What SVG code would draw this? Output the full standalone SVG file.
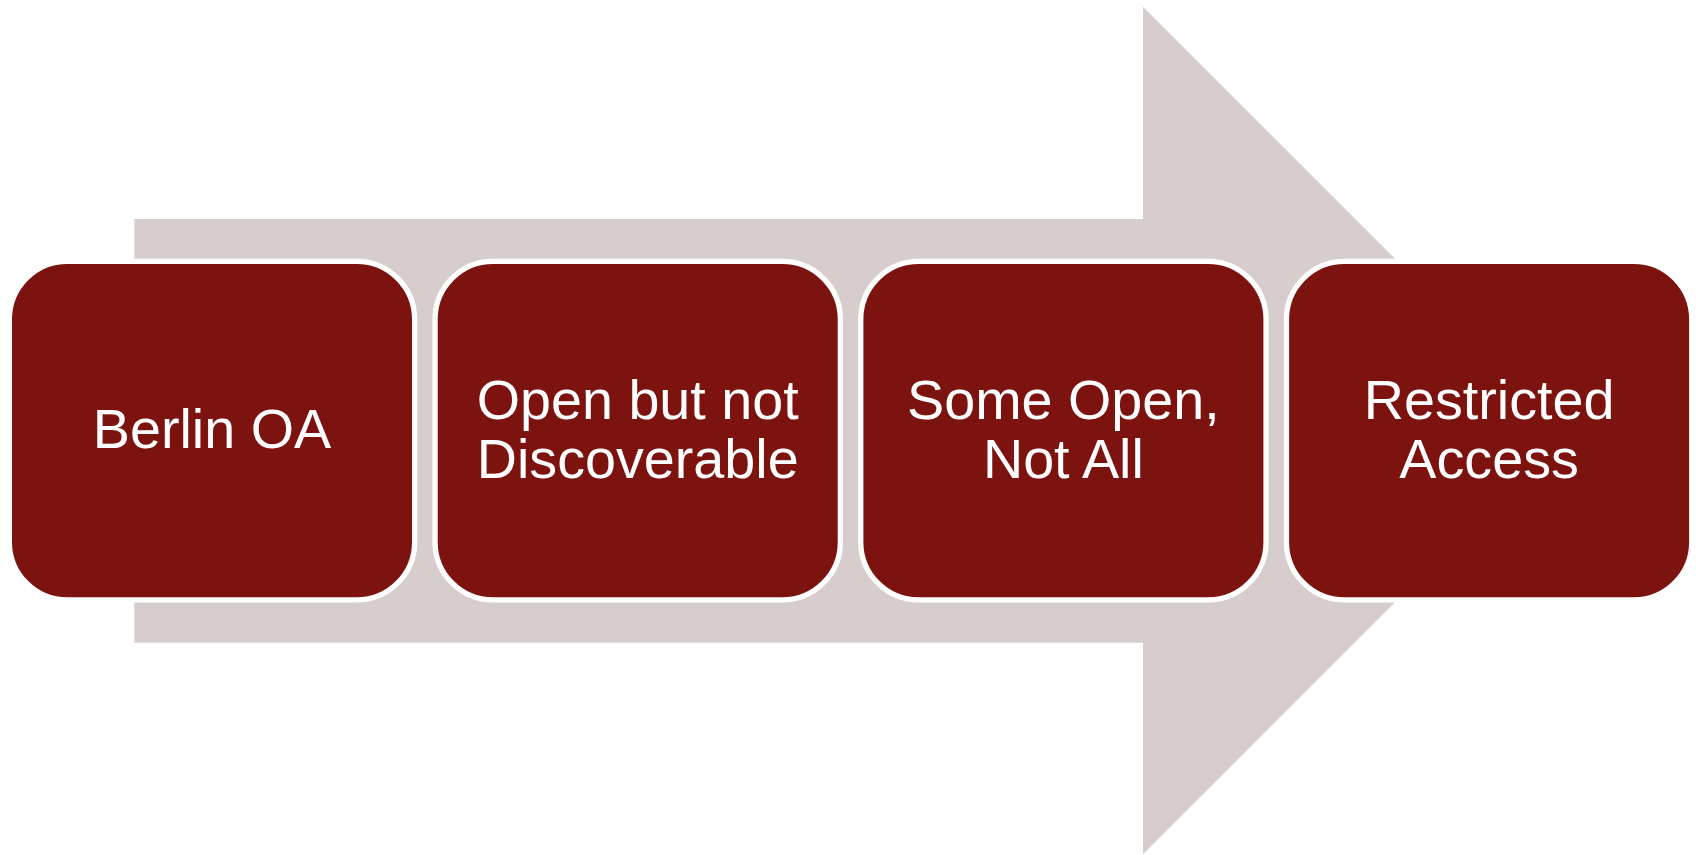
<svg xmlns="http://www.w3.org/2000/svg" width="1696" height="855" viewBox="0 0 1696 855">
  <style>
    .step { fill: #7D130F; stroke: #FFFFFF; stroke-width: 5.3; }
    .label { fill: #FFFFFF; font-family: "Liberation Sans", Arial, sans-serif; font-size: 55.7px; text-anchor: middle; }
  </style>
  <rect width="1696" height="855" fill="#FFFFFF"/>

  <!-- background process arrow -->
  <g id="connectors">
    <path d="M134.3 219 H1143 V6.7 L1566.8 430.5 L1143 854.3 V642.7 H134.3 Z" fill="#D7CDCC"/>
  </g>

  <g id="node-berlin-oa">
    <rect class="step" x="9.35" y="261.35" width="405.3" height="338.6" rx="58" ry="58"/>
    <text class="label" x="212" y="448.3">Berlin OA</text>
  </g>

  <g id="node-open-not-discoverable">
    <rect class="step" x="435.05" y="261.35" width="405.3" height="338.6" rx="58" ry="58"/>
    <text class="label" x="637.7" y="419">Open but not</text>
    <text class="label" x="637.7" y="477.7">Discoverable</text>
  </g>

  <g id="node-some-open">
    <rect class="step" x="860.75" y="261.35" width="405.3" height="338.6" rx="58" ry="58"/>
    <text class="label" x="1063.4" y="419">Some Open,</text>
    <text class="label" x="1063.4" y="477.7">Not All</text>
  </g>

  <g id="node-restricted">
    <rect class="step" x="1286.45" y="261.35" width="405.3" height="338.6" rx="58" ry="58"/>
    <text class="label" x="1489.1" y="419">Restricted</text>
    <text class="label" x="1489.1" y="477.7">Access</text>
  </g>
</svg>
